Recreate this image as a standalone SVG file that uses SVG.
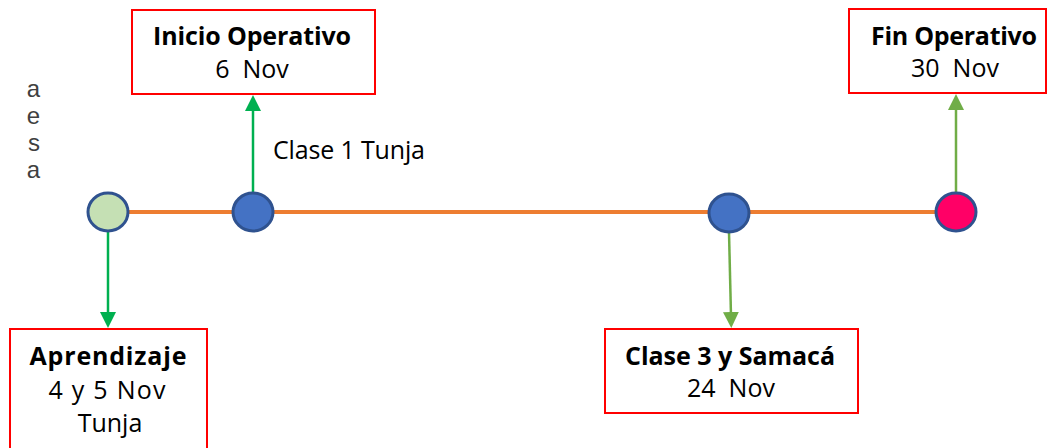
<svg xmlns="http://www.w3.org/2000/svg" width="1052" height="448" viewBox="0 0 1052 448">
<style>
.box{fill:#fff;stroke:#ff0000;stroke-width:2}
.t{font-family:"Open Sans","Noto Sans",sans-serif;font-size:25px;fill:#000;text-anchor:middle}
.b{font-weight:bold}
.side{font-family:"Liberation Sans",Arial,sans-serif;font-size:24px;fill:#404040;text-anchor:end}
.lbl{font-family:"Open Sans","Noto Sans",sans-serif;font-size:25px;fill:#000}
.dot{stroke:#2f528f;stroke-width:3}
.g1{stroke:#00b050;stroke-width:2.5;fill:none}
.g2{stroke:#70ad47;stroke-width:2.5;fill:none}
</style>
<defs>
<marker id="ag" markerWidth="16" markerHeight="16" refX="4" refY="8" orient="auto" markerUnits="userSpaceOnUse" viewBox="0 0 16 16"><path d="M0,0 L16,8 L0,16 z" fill="#00b050"/></marker>
<marker id="al" markerWidth="16" markerHeight="16" refX="4" refY="8" orient="auto" markerUnits="userSpaceOnUse" viewBox="0 0 16 16"><path d="M0,0 L16,8 L0,16 z" fill="#70ad47"/></marker>
</defs>
<g id="side-text">
<text class="side" x="40" y="97">a</text>
<text class="side" x="40" y="124">e</text>
<text class="side" x="40" y="151">s</text>
<text class="side" x="40" y="178">a</text>
</g>
<g id="connectors">
<line x1="128" y1="212" x2="936" y2="212" stroke="#ed7d31" stroke-width="4"/>
<line class="g1" x1="108" y1="231" x2="108" y2="316" marker-end="url(#ag)"/>
<line class="g1" x1="253" y1="193" x2="253" y2="107" marker-end="url(#ag)"/>
<line class="g2" x1="729" y1="232" x2="731" y2="316" marker-end="url(#al)"/>
<line class="g2" x1="956" y1="193" x2="956" y2="106" marker-end="url(#al)"/>
</g>
<g id="dot-aprendizaje"><ellipse class="dot" cx="108" cy="212" rx="20" ry="19" fill="#c5e0b4"/></g>
<g id="dot-inicio"><ellipse class="dot" cx="253" cy="212" rx="20" ry="19" fill="#4472c4"/></g>
<g id="dot-clase3"><ellipse class="dot" cx="729" cy="213" rx="20" ry="19" fill="#4472c4"/></g>
<g id="dot-fin"><ellipse class="dot" cx="956" cy="212" rx="20" ry="19" fill="#ff0066"/></g>
<g id="node-inicio">
<rect class="box" x="132" y="10" width="243" height="84"/>
<text class="t b" x="252" y="45" textLength="198" lengthAdjust="spacing">Inicio Operativo</text>
<text class="t" x="252" y="78" xml:space="preserve">6  Nov</text>
</g>
<g id="label-clase1"><text class="lbl" x="273" y="159" textLength="152" lengthAdjust="spacing">Clase 1 Tunja</text></g>
<g id="node-fin">
<rect class="box" x="849" y="9" width="197" height="84"/>
<text class="t b" x="954" y="45" textLength="166" lengthAdjust="spacing">Fin Operativo</text>
<text class="t" x="955" y="77" xml:space="preserve">30  Nov</text>
</g>
<g id="node-aprendizaje">
<rect class="box" x="10" y="329" width="197" height="125"/>
<text class="t b" x="108" y="365" textLength="157" lengthAdjust="spacing">Aprendizaje</text>
<text class="t" x="107" y="399" textLength="117" lengthAdjust="spacing">4 y 5 Nov</text>
<text class="t" x="110" y="432">Tunja</text>
</g>
<g id="node-clase3">
<rect class="box" x="605" y="329" width="253" height="84"/>
<text class="t b" x="730" y="365" textLength="210" lengthAdjust="spacing">Clase 3 y Samacá</text>
<text class="t" x="731" y="397" xml:space="preserve">24  Nov</text>
</g>
</svg>
